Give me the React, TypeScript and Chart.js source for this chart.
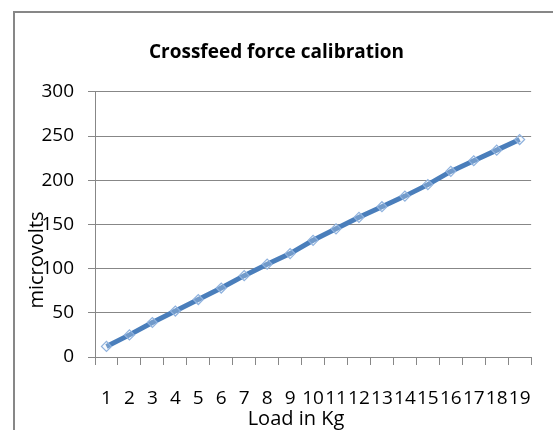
import React, { useEffect, useRef } from "react";
import { Chart, registerables } from "chart.js";

Chart.register(...registerables);

const categories = ["1", "2", "3", "4", "5", "6", "7", "8", "9", "10", "11", "12", "13", "14", "15", "16", "17", "18", "19"];
const microvolts = [12, 25, 39, 52, 65, 78, 92, 105, 117, 132, 145, 158, 170, 182, 195, 210, 222, 234, 246];
const chartTitle = "Crossfeed force calibration";
const xTitle = "Load in Kg";
const yTitle = "microvolts";

const FONT = "'Open Sans', 'Noto Sans', sans-serif";

const decorPlugin = {
  id: "decor",
  beforeDraw(chart: any) {
    const ctx = chart.ctx;
    ctx.save();
    ctx.fillStyle = "#ffffff";
    ctx.fillRect(0, 0, chart.width, chart.height);
    ctx.strokeStyle = "#878787";
    ctx.lineWidth = 2;
    ctx.strokeRect(14, 12, 700, 600);
    ctx.restore();
  },
  afterDraw(chart: any) {
    const ctx = chart.ctx;
    ctx.save();
    ctx.fillStyle = "#000000";
    ctx.font = `20px ${FONT}`;
    ctx.textAlign = "center";
    ctx.textBaseline = "middle";
    ctx.fillText(xTitle, 296, 419);
    ctx.translate(37, 260);
    ctx.rotate(-Math.PI / 2);
    ctx.fillText(yTitle, 0, 0);
    ctx.restore();
  },
};

export default function App() {
  const ref = useRef<HTMLCanvasElement | null>(null);
  useEffect(() => {
    if (!ref.current) return;
    const chart = new Chart(ref.current, {
      type: "line",
      data: {
        labels: categories,
        datasets: [
          {
            label: yTitle,
            data: microvolts,
            borderColor: "#4a7ebb",
            borderWidth: 5,
            pointStyle: "rectRot",
            pointRadius: 5,
            pointBorderWidth: 1.2,
            pointBorderColor: "#8fb2de",
            pointBackgroundColor: "rgba(230,238,248,0.25)",
            tension: 0,
            fill: false,
          },
        ],
      },
      options: {
        responsive: false,
        animation: false,
        layout: { padding: { left: 18, right: 18, top: 0, bottom: 0 } },
        plugins: {
          legend: { display: false },
          tooltip: { enabled: false },
          title: {
            display: true,
            text: chartTitle,
            color: "#000000",
            font: { family: FONT, size: 19, weight: "bold" },
            padding: { top: 41, bottom: 28 },
          },
        },
        scales: {
          x: {
            type: "category",
            offset: true,
            grid: {
              offset: true,
              drawOnChartArea: false,
              drawTicks: true,
              tickLength: 8,
              color: "#878787",
            },
            border: { display: true, color: "#878787" },
            ticks: {
              color: "#000000",
              font: { family: FONT, size: 19 },
              padding: 22,
              maxRotation: 0,
              autoSkip: false,
            },
            afterFit(scale: any) {
              scale.height = 73;
            },
          },
          y: {
            min: 0,
            max: 300,
            ticks: {
              stepSize: 50,
              color: "#000000",
              font: { family: FONT, size: 19 },
              padding: 14,
            },
            grid: {
              color: "#878787",
              drawTicks: true,
              tickLength: 7,
            },
            border: { display: true, color: "#878787" },
            afterFit(scale: any) {
              scale.width = 77;
            },
          },
        },
      },
      plugins: [decorPlugin],
    });
    return () => chart.destroy();
  }, []);
  return (
    <div style={{ position: "absolute", left: 0, top: 0, width: 553, height: 430 }}>
      <canvas ref={ref} width={553} height={430} style={{ display: "block" }} />
    </div>
  );
}
